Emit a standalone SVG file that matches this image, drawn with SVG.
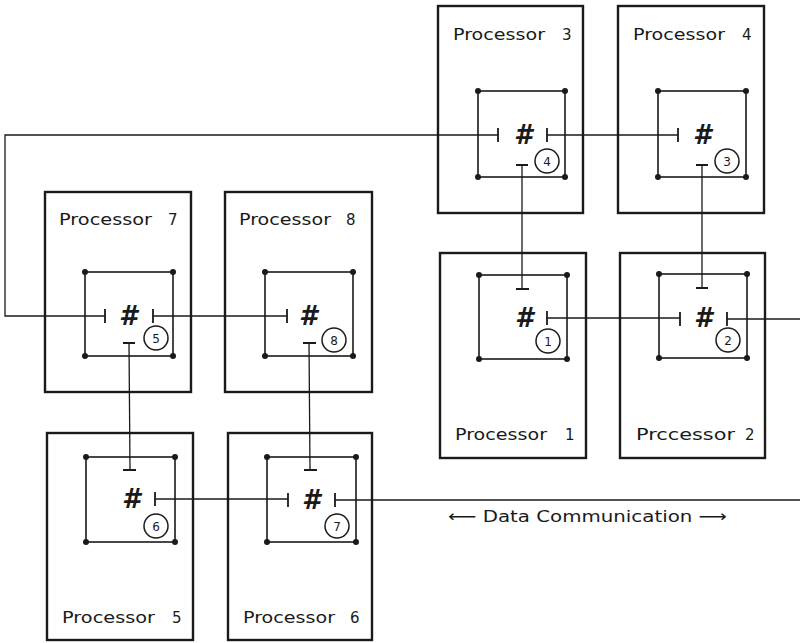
<svg xmlns="http://www.w3.org/2000/svg" width="800" height="643" viewBox="0 0 800 643">
<style>
.outer{fill:none;stroke:#1a1a1a;stroke-width:2.4}
.inner{fill:none;stroke:#1a1a1a;stroke-width:1.6}
.port{fill:none;stroke:#1a1a1a;stroke-width:1.8}
.dot{fill:#1a1a1a}
.wire{fill:none;stroke:#1a1a1a;stroke-width:1.3}
.lbl{font-family:"DejaVu Sans","Liberation Sans",sans-serif;font-size:15px;fill:#1a1a1a}
.hash{font-family:"DejaVu Sans","Liberation Sans",sans-serif;font-size:26px;font-weight:bold;font-style:italic;fill:#1a1a1a;text-anchor:middle}
.ring{fill:none;stroke:#1a1a1a;stroke-width:1.5}
.num{font-family:"DejaVu Sans","Liberation Sans",sans-serif;font-size:12px;fill:#1a1a1a;text-anchor:middle}
.cap{font-family:"DejaVu Sans","Liberation Sans",sans-serif;font-size:16px;fill:#1a1a1a}
</style>
<rect width="800" height="643" fill="#fff"/>

<g id="connectors">
  <polyline class="wire" points="498,135 5,135 5,316 105,316"/>
  <line class="wire" x1="547" y1="135" x2="678" y2="135"/>
  <line class="wire" x1="153" y1="316" x2="287" y2="316"/>
  <line class="wire" x1="547" y1="318" x2="680" y2="318"/>
  <line class="wire" x1="727" y1="319" x2="800" y2="319"/>
  <line class="wire" x1="155" y1="499" x2="288" y2="499"/>
  <line class="wire" x1="335" y1="500" x2="800" y2="500"/>
  <line class="wire" x1="522" y1="165" x2="522" y2="289"/>
  <line class="wire" x1="702" y1="165" x2="702" y2="288"/>
  <line class="wire" x1="129" y1="343" x2="130" y2="470"/>
  <line class="wire" x1="309" y1="343" x2="310" y2="470"/>
</g>

<g id="processor3">
  <rect class="outer" x="438" y="6" width="145" height="207"/>
  <text class="lbl" x="453" y="40"><tspan textLength="92" lengthAdjust="spacingAndGlyphs">Processor</tspan> <tspan x="562">3</tspan></text>
  <rect class="inner" x="478" y="91" width="87" height="86"/>
  <circle class="dot" cx="478" cy="91" r="3"/><circle class="dot" cx="565" cy="91" r="3"/><circle class="dot" cx="478" cy="177" r="3"/><circle class="dot" cx="565" cy="177" r="3"/>
  <path class="port" d="M498,128V142 M547,128V142 M516,165H528"/>
  <text class="hash" x="523" y="144">#</text>
  <circle class="ring" cx="547" cy="161" r="12"/><text class="num" x="547" y="165.5">4</text>
</g>

<g id="processor4">
  <rect class="outer" x="618" y="6" width="146" height="207"/>
  <text class="lbl" x="633" y="40"><tspan textLength="92" lengthAdjust="spacingAndGlyphs">Processor</tspan> <tspan x="742">4</tspan></text>
  <rect class="inner" x="658" y="91" width="88" height="86"/>
  <circle class="dot" cx="658" cy="91" r="3"/><circle class="dot" cx="746" cy="91" r="3"/><circle class="dot" cx="658" cy="177" r="3"/><circle class="dot" cx="746" cy="177" r="3"/>
  <path class="port" d="M678,128V142 M696,165H708"/>
  <text class="hash" x="702" y="144">#</text>
  <circle class="ring" cx="727" cy="161" r="12"/><text class="num" x="727" y="165.5">3</text>
</g>

<g id="processor1">
  <rect class="outer" x="440" y="253" width="146" height="205"/>
  <text class="lbl" x="455" y="440"><tspan textLength="92" lengthAdjust="spacingAndGlyphs">Processor</tspan> <tspan x="565">1</tspan></text>
  <rect class="inner" x="479" y="275" width="88" height="84"/>
  <circle class="dot" cx="479" cy="275" r="3"/><circle class="dot" cx="567" cy="275" r="3"/><circle class="dot" cx="479" cy="359" r="3"/><circle class="dot" cx="567" cy="359" r="3"/>
  <path class="port" d="M516,289H529 M547,311V325"/>
  <text class="hash" x="524" y="327">#</text>
  <circle class="ring" cx="548" cy="341" r="12"/><text class="num" x="548" y="345.5">1</text>
</g>

<g id="processor2">
  <rect class="outer" x="620" y="253" width="145" height="205"/>
  <text class="lbl" x="636" y="440"><tspan textLength="99" lengthAdjust="spacingAndGlyphs">Prccessor</tspan> <tspan x="745">2</tspan></text>
  <rect class="inner" x="659" y="274" width="88" height="84"/>
  <circle class="dot" cx="659" cy="274" r="3"/><circle class="dot" cx="747" cy="274" r="3"/><circle class="dot" cx="659" cy="358" r="3"/><circle class="dot" cx="747" cy="358" r="3"/>
  <path class="port" d="M696,288H708 M680,312V326 M727,312V326"/>
  <text class="hash" x="703" y="327">#</text>
  <circle class="ring" cx="728" cy="340" r="12"/><text class="num" x="728" y="344.5">2</text>
</g>

<g id="processor7">
  <rect class="outer" x="45" y="192" width="146" height="200"/>
  <text class="lbl" x="59" y="225"><tspan textLength="93" lengthAdjust="spacingAndGlyphs">Processor</tspan> <tspan x="168">7</tspan></text>
  <rect class="inner" x="85" y="272" width="88" height="84"/>
  <circle class="dot" cx="85" cy="272" r="3"/><circle class="dot" cx="173" cy="272" r="3"/><circle class="dot" cx="85" cy="356" r="3"/><circle class="dot" cx="173" cy="356" r="3"/>
  <path class="port" d="M105,309V323 M153,309V323 M123,343H135"/>
  <text class="hash" x="128" y="325">#</text>
  <circle class="ring" cx="156" cy="338" r="12"/><text class="num" x="156" y="342.5">5</text>
</g>

<g id="processor8">
  <rect class="outer" x="225" y="192" width="147" height="200"/>
  <text class="lbl" x="239" y="225"><tspan textLength="92" lengthAdjust="spacingAndGlyphs">Processor</tspan> <tspan x="346">8</tspan></text>
  <rect class="inner" x="265" y="272" width="88" height="84"/>
  <circle class="dot" cx="265" cy="272" r="3"/><circle class="dot" cx="353" cy="272" r="3"/><circle class="dot" cx="265" cy="356" r="3"/><circle class="dot" cx="353" cy="356" r="3"/>
  <path class="port" d="M287,309V323 M303,343H316"/>
  <text class="hash" x="308" y="325">#</text>
  <circle class="ring" cx="334" cy="340" r="12"/><text class="num" x="334" y="344.5">8</text>
</g>

<g id="processor5">
  <rect class="outer" x="47" y="433" width="146" height="207"/>
  <text class="lbl" x="62" y="623"><tspan textLength="93" lengthAdjust="spacingAndGlyphs">Processor</tspan> <tspan x="172">5</tspan></text>
  <rect class="inner" x="86" y="457" width="89" height="85"/>
  <circle class="dot" cx="86" cy="457" r="3"/><circle class="dot" cx="175" cy="457" r="3"/><circle class="dot" cx="86" cy="542" r="3"/><circle class="dot" cx="175" cy="542" r="3"/>
  <path class="port" d="M123,470H136 M155,492V506"/>
  <text class="hash" x="131" y="508">#</text>
  <circle class="ring" cx="156" cy="526" r="12"/><text class="num" x="156" y="530.5">6</text>
</g>

<g id="processor6">
  <rect class="outer" x="228" y="433" width="144" height="207"/>
  <text class="lbl" x="243" y="623"><tspan textLength="92" lengthAdjust="spacingAndGlyphs">Processor</tspan> <tspan x="350">6</tspan></text>
  <rect class="inner" x="267" y="457" width="89" height="85"/>
  <circle class="dot" cx="267" cy="457" r="3"/><circle class="dot" cx="356" cy="457" r="3"/><circle class="dot" cx="267" cy="542" r="3"/><circle class="dot" cx="356" cy="542" r="3"/>
  <path class="port" d="M304,470H317 M288,493V507 M335,493V507"/>
  <text class="hash" x="311" y="509">#</text>
  <circle class="ring" cx="337" cy="526" r="12"/><text class="num" x="337" y="530.5">7</text>
</g>

<text class="cap" x="448" y="522" textLength="279" lengthAdjust="spacingAndGlyphs">⟵ Data Communication ⟶</text>
</svg>
